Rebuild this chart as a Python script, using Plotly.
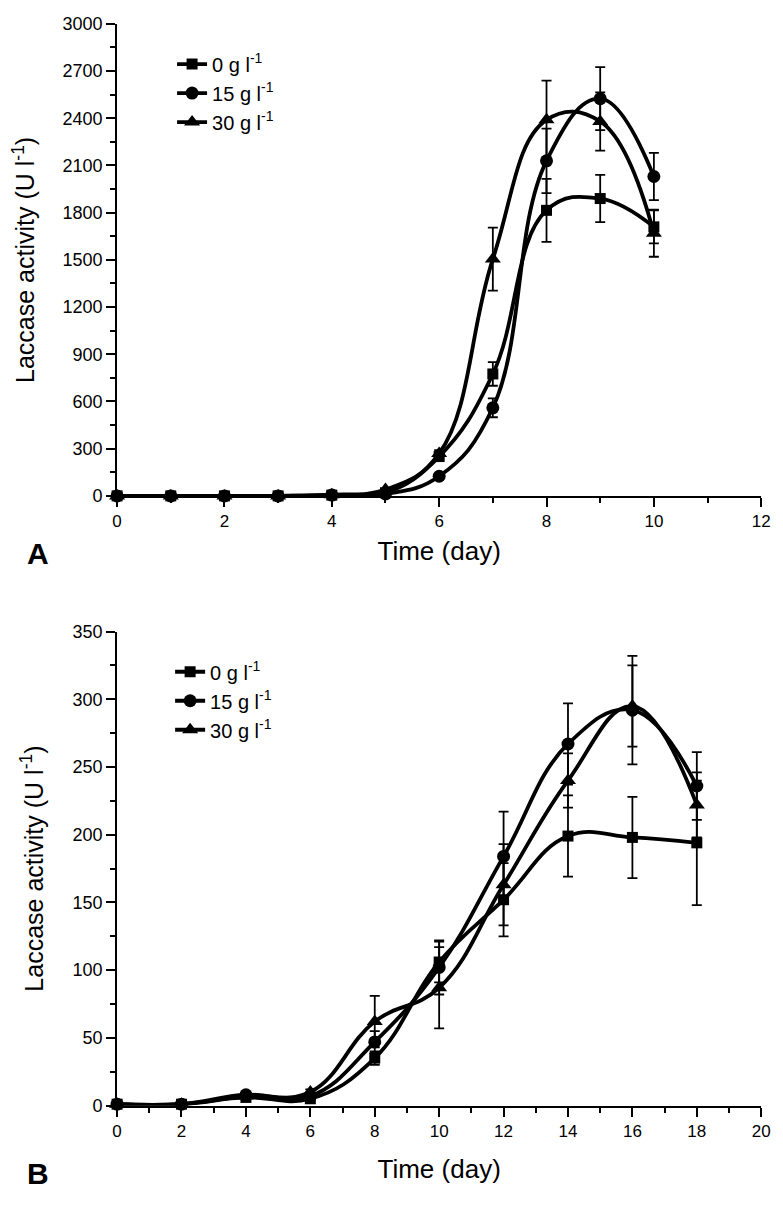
import plotly.graph_objects as go

# ---------------- data ----------------
days_a = [0, 1, 2, 3, 4, 5, 6, 7, 8, 9, 10]
a_0 = [0, 0, 0, 0, 5, 20, 250, 775, 1815, 1890, 1710]
a_0_err = [0, 0, 0, 0, 0, 0, 20, 75, 200, 150, 105]
a_15 = [0, 0, 0, 0, 5, 12, 125, 560, 2130, 2525, 2030]
a_15_err = [0, 0, 0, 0, 0, 0, 10, 60, 205, 200, 150]
a_30 = [0, 0, 0, 0, 8, 40, 270, 1505, 2390, 2380, 1670]
a_30_err = [0, 0, 0, 0, 0, 0, 20, 200, 250, 185, 150]

days_b = [0, 2, 4, 6, 8, 10, 12, 14, 16, 18]
b_0 = [1, 1, 6, 5, 35, 106, 152, 199, 198, 194]
b_0_err = [0, 0, 1, 1, 5, 15, 27, 30, 30, 46]
b_15 = [1, 1, 8, 7, 47, 102, 184, 267, 292, 236]
b_15_err = [0, 0, 1, 1, 8, 20, 33, 30, 40, 25]
b_30 = [1, 1, 7, 10, 62, 87, 163, 240, 295, 222]
b_30_err = [0, 0, 1, 2, 19, 30, 30, 20, 30, 24]

names = ["0 g l<sup>-1</sup>", "15 g l<sup>-1</sup>", "30 g l<sup>-1</sup>"]
symbols = ["square", "circle", "triangle-up"]
msizes = [11, 13, 14]

# page is 783x1207; the html body has an 8px default margin
OFF = 8
W, H = 783 - OFF, 1207 - OFF
FONT = "Liberation Sans, Arial, sans-serif"

fig = go.Figure()

def add_series(x, ys, errs, xa, ya, leg):
    for y, e, nm, sym, ms in zip(ys, errs, names, symbols, msizes):
        fig.add_trace(go.Scatter(
            x=x, y=y, name=nm, mode="lines+markers",
            line=dict(color="black", width=3.8, shape="spline", smoothing=1.2),
            marker=dict(symbol=sym, size=ms, color="black"),
            error_y=dict(type="data", array=e, visible=True, color="black",
                         thickness=1.8, width=5),
            xaxis=xa, yaxis=ya, legend=leg, cliponaxis=False,
        ))

add_series(days_a, [a_0, a_15, a_30], [a_0_err, a_15_err, a_30_err], "x", "y", "legend")
add_series(days_b, [b_0, b_15, b_30], [b_0_err, b_15_err, b_30_err], "x2", "y2", "legend2")

def px_x(p):
    return (p - OFF) / W

def px_y(p):
    return 1 - (p - OFF) / H

xdom = [px_x(114), px_x(770)]
ya_dom = [px_y(494), px_y(14)]
yb_dom = [px_y(1114), px_y(632)]

common_axis = dict(
    showline=True, linecolor="black", linewidth=2, showgrid=False, zeroline=False,
    ticks="outside", ticklen=9, tickwidth=2, tickcolor="black",
    mirror=False,
)
minor_common = dict(ticks="outside", ticklen=5, tickwidth=2, tickcolor="black", showgrid=False)

xtick_font = dict(family=FONT, size=17, color="black")
ytick_font = dict(family=FONT, size=18, color="black")
xtitle_font = dict(family=FONT, size=26, color="black")
ytitle_font = dict(family=FONT, size=25, color="black")
leg_font = dict(family=FONT, size=20, color="black")

fig.update_layout(
    width=W, height=H, paper_bgcolor="white", plot_bgcolor="white",
    margin=dict(l=0, r=0, t=0, b=0),
    showlegend=True,
    xaxis=dict(domain=xdom, anchor="y", range=[0, 12], dtick=2, tick0=0,
               minor=dict(dtick=1, **minor_common),
               tickfont=xtick_font,
               title=dict(text="Time (day)", font=xtitle_font, standoff=12),
               **common_axis),
    yaxis=dict(domain=ya_dom, anchor="x", range=[0, 3000], dtick=300, tick0=0,
               minor=dict(dtick=150, **minor_common),
               tickfont=ytick_font,
               title=dict(text="Laccase activity (U l<sup>-1</sup>)",
                          font=ytitle_font, standoff=22),
               **common_axis),
    xaxis2=dict(domain=xdom, anchor="y2", range=[0, 20], dtick=2, tick0=0,
                minor=dict(dtick=1, **minor_common),
                tickfont=xtick_font,
                title=dict(text="Time (day)", font=xtitle_font, standoff=20),
                **common_axis),
    yaxis2=dict(domain=yb_dom, anchor="x2", range=[0, 350], dtick=50, tick0=0,
                minor=dict(dtick=25, **minor_common),
                tickfont=ytick_font,
                title=dict(text="Laccase activity (U l<sup>-1</sup>)",
                           font=ytitle_font, standoff=22),
                **common_axis),
    legend=dict(x=px_x(170), y=px_y(35), xanchor="left", yanchor="top",
                bgcolor="rgba(0,0,0,0)", font=leg_font,
                tracegroupgap=0, itemwidth=30),
    legend2=dict(x=px_x(168), y=px_y(653), xanchor="left", yanchor="top",
                 bgcolor="rgba(0,0,0,0)", font=leg_font,
                 tracegroupgap=0, itemwidth=30),
    annotations=[
        dict(text="<b>A</b>", x=px_x(33), y=px_y(553), xref="paper", yref="paper",
             xanchor="center", yanchor="middle",
             showarrow=False, font=dict(family=FONT, size=30, color="black")),
        dict(text="<b>B</b>", x=px_x(33), y=px_y(1183), xref="paper", yref="paper",
             xanchor="center", yanchor="middle",
             showarrow=False, font=dict(family=FONT, size=30, color="black")),
    ],
)

fig.write_html("out.html")
